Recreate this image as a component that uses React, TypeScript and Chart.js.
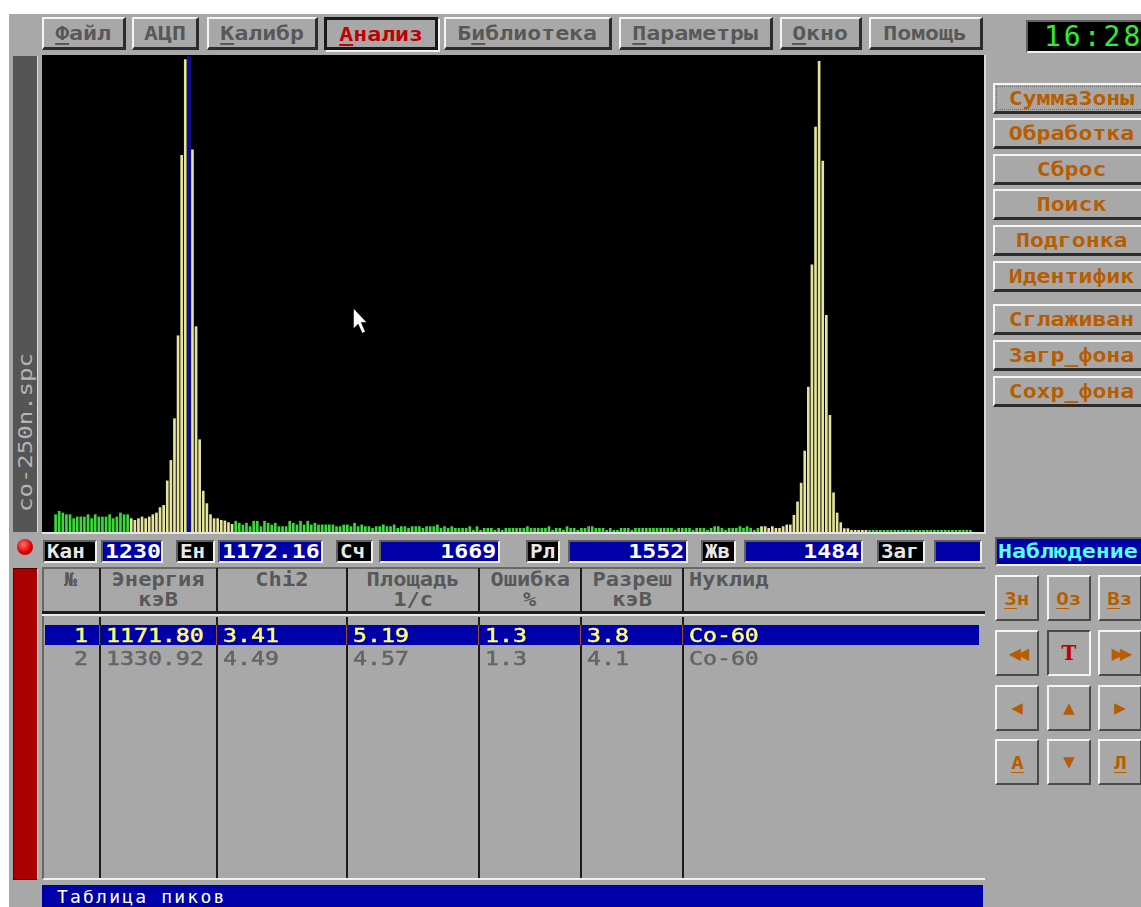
import React, { useEffect, useRef } from "react";
import { Chart, registerables } from "chart.js";

Chart.register(...registerables);

// ---------- spectrum data ----------
const FIRST_CHANNEL = 1193;
const COUNTS_BG_LEFT = [61, 73, 67, 61, 61, 47, 53, 53, 53, 61, 47, 61, 53, 53, 53, 61, 47, 53, 67, 61, 61];
const COUNTS_PEAK1 = [47, 41, 47, 53, 47, 53, 61, 67, 86, 94, 180, 252, 399, 691, 1326, 1663, 1669, 1346, 723, 325, 144, 100, 61, 47, 47, 41, 39, 33, 27];
const COUNTS_BG_MID = [
  38, 31, 25, 31, 19, 38, 38, 19, 38, 31,
  25, 31, 19, 19, 19, 38, 31, 25, 38, 25,
  38, 25, 31, 25, 25, 25, 25, 25, 19, 19,
  25, 25, 19, 31, 19, 25, 19, 19, 13, 19,
  19, 25, 19, 19, 25, 13, 19, 19, 13, 19,
  19, 19, 13, 19, 19, 19, 25, 13, 19, 13,
  19, 13, 13, 13, 13, 19, 6, 19, 6, 13,
  13, 13, 6, 13, 6, 13, 13, 13, 13, 13,
  13, 19, 13, 13, 13, 13, 13,
  19, 6, 13, 13, 6, 19, 13, 13, 6, 13,
  13, 19, 19, 13, 13, 13, 6, 13, 6, 6,
  13, 13, 13, 6, 13, 13, 13, 13, 13, 13,
  13, 13, 13, 13, 13, 6, 13, 13, 13, 13,
  6, 13, 13, 13, 6, 13, 19, 19, 13, 6,
  13, 13, 13, 19, 13, 19, 13, 6, 13,
];
const COUNTS_PEAK2 = [19, 19, 13, 19, 13, 13, 19, 25, 25, 59, 106, 172, 285, 510, 941, 1426, 1657, 1306, 763, 411, 138, 67, 33, 12, 12, 6, 6, 6, 6, 6];
const COUNTS_BG_RIGHT = [6, 6, 6, 6, 6, 6, 6, 6, 6, 6, 6, 6, 6, 6, 6, 6, 6, 6, 6, 6, 6, 6, 6, 6, 6, 6, 6, 6, 6];
const COUNTS = [...COUNTS_BG_LEFT, ...COUNTS_PEAK1, ...COUNTS_BG_MID, ...COUNTS_PEAK2, ...COUNTS_BG_RIGHT];
const CHANNELS = COUNTS.map((_, i) => FIRST_CHANNEL + i);
const ROI_START = [1214, 1389];
const ROI_END = [1242, 1418];
const CURSOR_CHANNEL = 1230;
const X_MIN = 1189.5;
const X_MAX = 1450.5;
const Y_MAX = 1676;

// ---------- UI texts ----------
const MENU_LABELS = ["Файл", "АЦП", "Калибр", "Анализ", "Библиотека", "Параметры", "Окно", "Помощь"];
const MENU_HOT = [0, -1, 0, 0, 1, 0, 0, -1];
const SIDE_LABELS = ["СуммаЗоны", "Обработка", "Сброс", "Поиск", "Подгонка", "Идентифик", "Сглаживан", "Загр_фона", "Сохр_фона"];
const INFO_LABELS = ["Кан", "Ен", "Сч", "Рл", "Жв", "Заг"];
const INFO_VALUES = ["1230", "1172.16", "1669", "1552", "1484", ""];
const HEAD_1 = ["№", "Энергия", "Chi2", "Площадь", "Ошибка", "Разреш", "Нуклид"];
const HEAD_2 = ["", "кэВ", "", "1/c", "%", "кэВ", ""];
const PEAK_NO = ["1", "2"];
const PEAK_ENERGY = ["1171.80", "1330.92"];
const PEAK_CHI2 = ["3.41", "4.49"];
const PEAK_AREA = ["5.19", "4.57"];
const PEAK_ERR = ["1.3", "1.3"];
const PEAK_RES = ["3.8", "4.1"];
const PEAK_NUCLIDE = ["Co-60", "Co-60"];

const FONT = '"DejaVu Sans Mono", monospace';
const GRAY = "#a8a8a8";
const BLUE = "#0000a8";
const ORANGE = "#b85c00";
const YELLOW_BAR = "#e4e49c";
const GREEN_BAR = "#3cd83c";
const SX = 1.16;

const txt = (size = 20, bold = true): React.CSSProperties => ({
  fontFamily: FONT,
  fontSize: size,
  fontWeight: bold ? "bold" : "normal",
  letterSpacing: 0,
  whiteSpace: "pre",
});

function W({ children, o = "center", sx = SX }: { children: React.ReactNode; o?: string; sx?: number }) {
  return (
    <span style={{ display: "inline-block", transform: `scaleX(${sx})`, transformOrigin: o }}>{children}</span>
  );
}

const raised: React.CSSProperties = {
  borderStyle: "solid",
  borderWidth: "2px 3px 3px 2px",
  borderColor: "#f4f4f4 #2c2c2c #2c2c2c #f4f4f4",
};
const sunken: React.CSSProperties = {
  borderStyle: "solid",
  borderWidth: "2px",
  borderColor: "#606060 #f0f0f0 #f0f0f0 #606060",
};

function Box(p: { x: number; y: number; w: number; h: number; style?: React.CSSProperties; children?: React.ReactNode }) {
  return (
    <div style={{ position: "absolute", left: p.x, top: p.y, width: p.w, height: p.h, boxSizing: "border-box", ...p.style }}>
      {p.children}
    </div>
  );
}

function Hot({ text, hot }: { text: string; hot: number }) {
  if (hot < 0) return <>{text}</>;
  return (
    <>
      {text.slice(0, hot)}
      <span style={{ textDecoration: "underline", textUnderlineOffset: 3 }}>{text[hot]}</span>
      {text.slice(hot + 1)}
    </>
  );
}

function Spectrum() {
  const ref = useRef<HTMLCanvasElement>(null);
  useEffect(() => {
    const inRoi = (c: number) => ROI_START.some((s, k) => c >= s && c <= ROI_END[k]);
    const chart = new Chart(ref.current as HTMLCanvasElement, {
      type: "bar",
      data: {
        datasets: [
          {
            label: "cursor",
            data: [{ x: CURSOR_CHANNEL, y: Y_MAX }],
            backgroundColor: "#0a0aa0",
            barThickness: 3,
            grouped: false,
            order: 0,
          } as any,
          {
            label: "counts",
            data: CHANNELS.map((c, i) => ({ x: c, y: COUNTS[i] })),
            backgroundColor: CHANNELS.map((c) => (inRoi(c) ? YELLOW_BAR : GREEN_BAR)),
            barThickness: 2,
            borderWidth: 0,
            grouped: false,
            order: 1,
          } as any,
        ],
      },
      options: {
        animation: false,
        responsive: false,
        devicePixelRatio: 1,
        events: [],
        layout: { padding: 0 },
        plugins: { legend: { display: false }, tooltip: { enabled: false } },
        scales: {
          x: { type: "linear", min: X_MIN, max: X_MAX, offset: false, display: false },
          y: { min: 0, max: Y_MAX, display: false },
        },
      },
    });
    return () => chart.destroy();
  }, []);
  return (
    <canvas
      ref={ref}
      width={940}
      height={476}
      style={{ position: "absolute", left: 43, top: 56, width: 940, height: 476 }}
    />
  );
}

export default function App() {
  const menuX = [42, 132, 207, 324, 444, 619, 780, 869];
  const menuW = [84, 67, 111, 114, 168, 154, 82, 114];
  const sideY = [83, 118, 154, 189, 225, 261, 304, 340, 376];
  const infoLab = [[43, 54], [176, 39], [336, 37], [526, 34], [701, 35], [877, 48]];
  const infoVal = [[101, 62], [218, 105], [379, 121], [568, 120], [744, 119], [934, 48]];
  const infoRight = [false, false, true, true, true, true];
  const colX = [42, 100, 217, 347, 479, 581, 683, 985];
  const rowCols = [PEAK_NO, PEAK_ENERGY, PEAK_CHI2, PEAK_AREA, PEAK_ERR, PEAK_RES, PEAK_NUCLIDE];
  const navX = [995, 1047, 1098];
  const navY = [575, 630, 685, 739];

  const navContent = (r: number, c: number): React.ReactNode => {
    const tri = (s: string, sz = 16, ls = 0) => (
      <span style={{ fontFamily: '"DejaVu Sans", sans-serif', fontSize: sz, color: ORANGE, letterSpacing: ls }}>{s}</span>
    );
    if (r === 0) {
      const l = ["Зн", "Оз", "Вз"][c];
      return <span style={{ ...txt(18), color: ORANGE }}><W><Hot text={l} hot={0} /></W></span>;
    }
    if (r === 1) {
      if (c === 1) return <span style={{ fontFamily: '"DejaVu Serif", serif', fontSize: 20, fontWeight: "bold", color: "#c00000" }}>T</span>;
      return tri(c === 0 ? "◀◀" : "▶▶", 16, -4);
    }
    if (r === 2) return tri(["◀", "▲", "▶"][c], 15);
    if (c === 1) return tri("▼", 15);
    return <span style={{ ...txt(18), color: ORANGE }}><W><Hot text={c === 0 ? "А" : "Л"} hot={0} /></W></span>;
  };

  return (
    <div style={{ position: "fixed", left: 0, top: 0, width: 1141, height: 907, background: "#fff", overflow: "hidden" }}>
      {/* screen background */}
      <Box x={9} y={14} w={1132} h={893} style={{ background: GRAY }} />

      {/* menu */}
      {MENU_LABELS.map((l, i) => {
        const pressed = i === 3;
        return (
          <Box
            key={l}
            x={menuX[i]}
            y={17}
            w={menuW[i]}
            h={33}
            style={{
              ...(pressed
                ? { border: "3px solid #181818", boxShadow: "2px 2px 0 #f4f4f4" }
                : raised),
              display: "flex",
              alignItems: "center",
              justifyContent: "center",
              ...txt(20),
              color: pressed ? "#c00000" : "#585858",
            }}
          >
            <W><Hot text={l} hot={MENU_HOT[i]} /></W>
          </Box>
        );
      })}

      {/* clock */}
      <Box
        x={1026}
        y={20}
        w={120}
        h={33}
        style={{ ...sunken, background: "#000", color: "#2cf02c", display: "flex", alignItems: "center", paddingLeft: 16, ...txt(28, false), letterSpacing: 3 }}
      >
        16:28
      </Box>

      {/* file name bar */}
      <Box x={13} y={56} w={25} h={476} style={{ background: "#555", borderRight: "1px solid #ddd" }} />
      <div
        style={{
          position: "absolute",
          left: 14,
          top: 512,
          width: 180,
          height: 23,
          transform: "rotate(-90deg)",
          transformOrigin: "0 0",
          ...txt(20, false),
          color: "#b4b4b4",
          lineHeight: "23px",
        }}
      >
        <W o="left" sx={1.2}>co-250n.spc</W>
      </div>

      {/* plot */}
      <Box x={42} y={55} w={942} h={477} style={{ background: "#000" }} />
      <Spectrum />
      <Box x={984} y={55} w={2} h={479} style={{ background: "#d8d8d8" }} />
      <Box x={42} y={532} w={944} h={2} style={{ background: "#e4e4e4" }} />

      {/* mouse pointer */}
      <svg style={{ position: "absolute", left: 352, top: 306 }} width={18} height={30} viewBox="0 0 18 30">
        <polygon points="1,1 1,24 6,19 10,28 14,26 10,17 16,17" fill="#fff" stroke="#000" strokeWidth={1.5} />
      </svg>

      {/* info row */}
      <div
        style={{
          position: "absolute",
          left: 17,
          top: 539,
          width: 16,
          height: 16,
          borderRadius: 8,
          background: "radial-gradient(circle at 40% 35%, #ff7070, #e00000 55%, #900000)",
        }}
      />
      {INFO_LABELS.map((l, i) => (
        <Box
          key={l}
          x={infoLab[i][0]}
          y={540}
          w={infoLab[i][1]}
          h={23}
          style={{ ...sunken, background: "#000", color: "#e8e8e8", ...txt(19), lineHeight: "19px", paddingLeft: 2 }}
        >
          <W o="left" sx={1.1}>{l}</W>
        </Box>
      ))}
      {INFO_VALUES.map((v, i) => (
        <Box
          key={"v" + i}
          x={infoVal[i][0]}
          y={540}
          w={infoVal[i][1]}
          h={23}
          style={{
            ...sunken,
            background: BLUE,
            color: "#fff",
            ...txt(20),
            lineHeight: "19px",
            textAlign: infoRight[i] ? "right" : "left",
            paddingLeft: 2,
            paddingRight: 2,
          }}
        >
          <W o={infoRight[i] ? "right" : "left"}>{v}</W>
        </Box>
      ))}
      <Box
        x={995}
        y={537}
        w={150}
        h={29}
        style={{ ...sunken, background: BLUE, color: "#55ffff", ...txt(20), lineHeight: "25px", paddingLeft: 1 }}
      >
        <W o="left">Наблюдение</W>
      </Box>

      {/* red bar */}
      <Box x={13} y={568} w={25} h={312} style={{ background: "#aa0000", border: "1px solid #550000", borderRight: "1px solid #ddd" }} />

      {/* table */}
      <Box x={42} y={567} w={943} h={313} style={{ background: GRAY, borderTop: "2px solid #686868", borderLeft: "2px solid #686868", borderBottom: "2px solid #f0f0f0" }} />
      {HEAD_1.map((h, i) => (
        <div
          key={"h" + i}
          style={{
            position: "absolute",
            left: colX[i] + (i === 6 ? 6 : 0),
            top: 569,
            width: i === 6 ? 200 : colX[i + 1] - colX[i],
            textAlign: i === 6 ? "left" : "center",
            ...txt(19),
            color: "#585858",
            lineHeight: "20px",
          }}
        >
          <W o={i === 6 ? "left" : "center"}>{h}</W>
          {"\n"}
          <W>{HEAD_2[i]}</W>
        </div>
      ))}
      <Box x={42} y={611} w={943} h={3} style={{ background: "#1c1c1c" }} />
      <Box x={42} y={614} w={943} h={2} style={{ background: "#e8e8e8" }} />
      {/* selected row */}
      <Box x={45} y={625} w={934} h={20} style={{ background: BLUE }} />
      {colX.slice(1, 7).map((x) => (
        <React.Fragment key={"c" + x}>
          <Box x={x - 1} y={568} w={2} h={44} style={{ background: "#1c1c1c" }} />
          <Box x={x - 1} y={617} w={2} h={261} style={{ background: "#1c1c1c" }} />
          <Box x={x - 1} y={625} w={1} h={20} style={{ background: "#a05020" }} />
        </React.Fragment>
      ))}
      {PEAK_NO.map((_, r) =>
        rowCols.map((col, c) => (
          <div
            key={"r" + r + "c" + c}
            style={{
              position: "absolute",
              left: c === 0 ? colX[0] : colX[c] + 6,
              top: 625 + r * 23,
              width: c === 0 ? colX[1] - colX[0] - 12 : 220,
              textAlign: c === 0 ? "right" : "left",
              ...txt(20),
              fontWeight: "normal",
              WebkitTextStroke: "0.5px currentColor",
              lineHeight: "20px",
              color: r === 0 ? "#ffff70" : "#646464",
            }}
          >
            <W o={c === 0 ? "right" : "left"}>{col[r]}</W>
          </div>
        ))
      )}

      {/* status bar */}
      <Box x={42} y={885} w={941} h={22} style={{ background: BLUE, color: "#fff", ...txt(18, false), letterSpacing: 2.2, paddingLeft: 15, lineHeight: "24px" }}>
        Таблица пиков
      </Box>

      {/* side buttons */}
      {SIDE_LABELS.map((l, i) => (
        <Box
          key={l}
          x={993}
          y={sideY[i]}
          w={151}
          h={31}
          style={{ ...raised, borderRightWidth: 0, display: "flex", alignItems: "center", justifyContent: "center", color: ORANGE, ...txt(19) }}
        >
          {i === 0 && (
            <div style={{ position: "absolute", left: 1, top: 1, right: 1, bottom: 1, border: "1px dotted #6a6a6a" }} />
          )}
          <span style={{ marginLeft: 4 }}><W sx={1.22}>{l}</W></span>
        </Box>
      ))}

      {/* nav buttons */}
      {navY.map((y, r) =>
        navX.map((x, c) => {
          const pressed = r === 1 && c === 1;
          return (
            <Box
              key={"n" + r + c}
              x={x}
              y={y}
              w={44}
              h={46}
              style={{
                borderStyle: "solid",
                borderWidth: 2,
                borderColor: pressed ? "#4a4a4a #f4f4f4 #f4f4f4 #4a4a4a" : "#f4f4f4 #4a4a4a #4a4a4a #f4f4f4",
                display: "flex",
                alignItems: "center",
                justifyContent: "center",
              }}
            >
              {navContent(r, c)}
            </Box>
          );
        })
      )}
    </div>
  );
}
